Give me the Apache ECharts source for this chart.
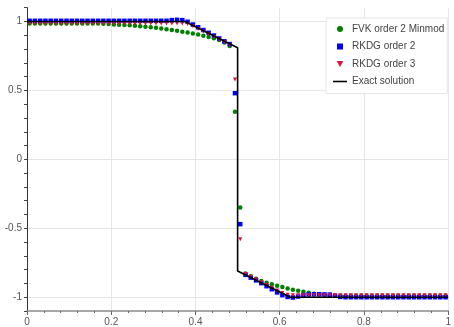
<!DOCTYPE html>
<html>
<head>
<meta charset="utf-8">
<script src="https://cdn.jsdelivr.net/npm/echarts@6/dist/echarts.min.js"></script>
<style>
  html, body { margin: 0; padding: 0; background: #fff; }
  #chart { width: 454px; height: 327px; }
</style>
</head>
<body>
<div id="chart"></div>
<script>
// Cell centres of the 80-cell mesh on [0, 1]
const cellX = [
  0.00625, 0.01875, 0.03125, 0.04375, 0.05625, 0.06875, 0.08125, 0.09375, 0.10625, 0.11875,
  0.13125, 0.14375, 0.15625, 0.16875, 0.18125, 0.19375, 0.20625, 0.21875, 0.23125, 0.24375,
  0.25625, 0.26875, 0.28125, 0.29375, 0.30625, 0.31875, 0.33125, 0.34375, 0.35625, 0.36875,
  0.38125, 0.39375, 0.40625, 0.41875, 0.43125, 0.44375, 0.45625, 0.46875, 0.48125, 0.49375,
  0.50625, 0.51875, 0.53125, 0.54375, 0.55625, 0.56875, 0.58125, 0.59375, 0.60625, 0.61875,
  0.63125, 0.64375, 0.65625, 0.66875, 0.68125, 0.69375, 0.70625, 0.71875, 0.73125, 0.74375,
  0.75625, 0.76875, 0.78125, 0.79375, 0.80625, 0.81875, 0.83125, 0.84375, 0.85625, 0.86875,
  0.88125, 0.89375, 0.90625, 0.91875, 0.93125, 0.94375, 0.95625, 0.96875, 0.98125, 0.99375
];

// FVK order 2 with Minmod limiter
const fvkMinmod = [
  0.985, 0.985, 0.985, 0.985, 0.985, 0.985, 0.985, 0.985, 0.985, 0.985,
  0.985, 0.985, 0.985, 0.985, 0.983, 0.981, 0.979, 0.977, 0.975, 0.972,
  0.969, 0.966, 0.962, 0.958, 0.954, 0.949, 0.944, 0.938, 0.932, 0.926,
  0.920, 0.913, 0.905, 0.897, 0.888, 0.878, 0.865, 0.848, 0.822, 0.345,
  -0.350, -0.828, -0.848, -0.866, -0.882, -0.895, -0.906, -0.916, -0.926, -0.936,
  -0.945, -0.953, -0.961, -0.968, -0.974, -0.979, -0.983, -0.986, -0.988, -0.990,
  -0.990, -0.990, -0.990, -0.990, -0.990, -0.990, -0.990, -0.990, -0.990, -0.990,
  -0.990, -0.990, -0.990, -0.990, -0.990, -0.990, -0.990, -0.990, -0.990, -0.990
];

// RKDG order 2
const rkdg2 = [
  1.005, 1.005, 1.005, 1.005, 1.005, 1.005, 1.005, 1.005, 1.005, 1.005,
  1.005, 1.005, 1.005, 1.005, 1.005, 1.005, 1.005, 1.005, 1.005, 1.005,
  1.005, 1.005, 1.005, 1.005, 1.005, 1.005, 1.005, 1.010, 1.012, 1.010,
  0.998, 0.978, 0.958, 0.938, 0.918, 0.898, 0.877, 0.856, 0.836, 0.480,
  -0.470, -0.838, -0.858, -0.878, -0.898, -0.920, -0.942, -0.965, -0.985, -0.998,
  -1.002, -0.995, -0.985, -0.980, -0.979, -0.979, -0.980, -0.981, -0.990, -0.998,
  -1.000, -1.000, -1.000, -1.000, -1.000, -1.000, -1.000, -1.000, -1.000, -1.000,
  -1.000, -1.000, -1.000, -1.000, -1.000, -1.000, -1.000, -1.000, -1.000, -1.000
];

// RKDG order 3
const rkdg3 = [
  0.985, 0.985, 0.985, 0.985, 0.985, 0.985, 0.985, 0.985, 0.985, 0.985,
  0.985, 0.985, 0.985, 0.985, 0.985, 0.985, 0.985, 0.985, 0.985, 0.985,
  0.985, 0.985, 0.985, 0.985, 0.985, 0.985, 0.985, 0.985, 0.985, 0.985,
  0.982, 0.966, 0.946, 0.927, 0.908, 0.889, 0.870, 0.851, 0.831, 0.580,
  -0.580, -0.832, -0.852, -0.872, -0.892, -0.912, -0.932, -0.952, -0.969, -0.982,
  -0.985, -0.985, -0.985, -0.985, -0.985, -0.985, -0.985, -0.985, -0.985, -0.985,
  -0.985, -0.985, -0.985, -0.985, -0.985, -0.985, -0.985, -0.985, -0.985, -0.985,
  -0.985, -0.985, -0.985, -0.985, -0.985, -0.985, -0.985, -0.985, -0.985, -0.985
];

// Exact solution (piecewise linear with a shock at x = 0.5)
const exactX = [0, 0.375, 0.5, 0.5, 0.625, 1];
const exactU = [1, 1, 0.81, -0.81, -1, -1];

// Tick labels
const xTickLabels = ['0', '0.2', '0.4', '0.6', '0.8', '1'];
const yTickLabels = ['-1', '-0.5', '0', '0.5', '1'];

const seriesNames = ['FVK order 2 Minmod', 'RKDG order 2', 'RKDG order 3', 'Exact solution'];

function pairs(xs, ys) {
  return xs.map((x, i) => [x, ys[i]]);
}

function isYMajor(v) {
  const t = v * 2;
  return Math.abs(t - Math.round(t)) < 1e-6 && Math.abs(v) < 1.0001;
}

const chart = echarts.init(document.getElementById('chart'), null, { renderer: 'canvas' });

const gridColor = '#e5e5e5';
const labelColor = '#555';
const fontFamily = 'Liberation Sans, Arial, sans-serif';

chart.setOption({
  animation: false,
  backgroundColor: '#ffffff',
  grid: { left: 27, right: 2, top: 7.7, bottom: 15.7, containLabel: false },
  legend: {
    orient: 'vertical',
    left: 326,
    top: 18,
    padding: [6, 3, 7, 7],
    itemGap: 7.5,
    itemWidth: 14,
    itemHeight: 6,
    symbolKeepAspect: true,
    backgroundColor: '#ffffff',
    borderColor: '#e6e6e6',
    borderWidth: 1,
    textStyle: { fontSize: 10, color: '#444', fontFamily: fontFamily },
    data: [
      { name: seriesNames[0], icon: 'circle' },
      { name: seriesNames[1], icon: 'path://M0,0H10V10H0Z' },
      { name: seriesNames[2], icon: 'path://M0,0H10L5,9Z' },
      { name: seriesNames[3], icon: 'path://M0,0H14V1.6H0Z' }
    ]
  },
  xAxis: {
    type: 'value',
    min: 0,
    max: 1,
    interval: 0.2,
    axisLine: { show: true, onZero: false, lineStyle: { color: '#8a8a8a', width: 1.5 } },
    axisTick: { show: true, length: 4, lineStyle: { color: '#666' } },
    minorTick: { show: true, splitNumber: 5, length: 2, lineStyle: { color: '#666' } },
    splitLine: { show: true, lineStyle: { color: gridColor, width: 1 } },
    axisLabel: {
      fontSize: 10,
      color: labelColor,
      margin: 6,
      fontFamily: fontFamily,
      formatter: function (v) {
        const idx = Math.round(v / 0.2);
        return xTickLabels[idx] !== undefined ? xTickLabels[idx] : '';
      }
    }
  },
  yAxis: {
    type: 'value',
    min: -1.1,
    max: 1.1,
    interval: 0.1,
    axisLine: { show: true, onZero: false, lineStyle: { color: '#333', width: 1 } },
    axisTick: { show: true, length: 3, lineStyle: { color: '#444' } },
    splitLine: {
      show: true,
      lineStyle: {
        // grid lines only at -1, -0.5, 0, 0.5, 1 (every fifth 0.1 step)
        color: ['rgba(0,0,0,0)', gridColor, 'rgba(0,0,0,0)', 'rgba(0,0,0,0)', 'rgba(0,0,0,0)'],
        width: 1
      }
    },
    axisLabel: {
      fontSize: 10,
      color: labelColor,
      margin: 5,
      fontFamily: fontFamily,
      formatter: function (v) {
        if (!isYMajor(v)) return '';
        const idx = Math.round(v * 2) + 2;
        return yTickLabels[idx];
      }
    }
  },
  series: [
    {
      name: seriesNames[0],
      type: 'scatter',
      symbol: 'circle',
      symbolSize: 4.5,
      itemStyle: { color: '#008000', opacity: 1 },
      data: pairs(cellX, fvkMinmod)
    },
    {
      name: seriesNames[1],
      type: 'scatter',
      symbol: 'rect',
      symbolSize: 4.5,
      itemStyle: { color: '#0000ff', opacity: 1 },
      data: pairs(cellX, rkdg2)
    },
    {
      name: seriesNames[2],
      type: 'scatter',
      symbol: 'triangle',
      symbolRotate: 180,
      symbolSize: 4,
      itemStyle: { color: '#dc143c', opacity: 1 },
      data: pairs(cellX, rkdg3)
    },
    {
      name: seriesNames[3],
      type: 'line',
      symbol: 'none',
      lineStyle: { color: '#000000', width: 1.6 },
      itemStyle: { color: '#000000' },
      data: pairs(exactX, exactU)
    }
  ]
});
</script>
</body>
</html>
